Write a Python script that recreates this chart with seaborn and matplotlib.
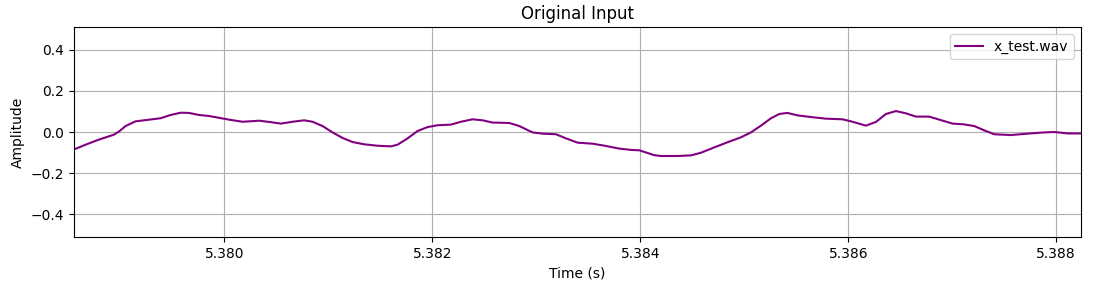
import matplotlib
matplotlib.use("Agg")
import matplotlib.pyplot as plt
import seaborn as sns
import pandas as pd

series_label = "x_test.wav"
time_s = [5.378555, 5.378666, 5.378795, 5.378939, 5.378987, 5.379051, 5.379147,
          5.379276, 5.379387, 5.379484, 5.379580, 5.379661, 5.379757, 5.379853,
          5.379952, 5.380048, 5.380176, 5.380337, 5.380433, 5.380545, 5.380657,
          5.380769, 5.380849, 5.380945, 5.381041, 5.381138, 5.381234, 5.381346,
          5.381474, 5.381603, 5.381666, 5.381763, 5.381859, 5.381955, 5.382051,
          5.382180, 5.382276, 5.382388, 5.382484, 5.382580, 5.382740, 5.382837,
          5.382964, 5.383061, 5.383189, 5.383286, 5.383397, 5.383541, 5.383670,
          5.383798, 5.383926, 5.383990, 5.384135, 5.384199, 5.384359, 5.384488,
          5.384584, 5.384712, 5.384839, 5.384968, 5.385064, 5.385161, 5.385257,
          5.385337, 5.385416, 5.385513, 5.385657, 5.385786, 5.385945, 5.386041,
          5.386170, 5.386266, 5.386363, 5.386459, 5.386555, 5.386651, 5.386779,
          5.386923, 5.387003, 5.387115, 5.387212, 5.387308, 5.387404, 5.387564,
          5.387724, 5.387885, 5.387981, 5.388109, 5.388238]
amplitude = [-0.085, -0.062, -0.037, -0.013, 0.002, 0.029, 0.052,
             0.060, 0.067, 0.083, 0.094, 0.093, 0.083, 0.078,
             0.069, 0.060, 0.050, 0.055, 0.049, 0.041, 0.050,
             0.057, 0.050, 0.029, -0.002, -0.029, -0.049, -0.060,
             -0.067, -0.070, -0.062, -0.031, 0.005, 0.024, 0.033,
             0.036, 0.050, 0.062, 0.057, 0.046, 0.044, 0.029,
             -0.002, -0.008, -0.011, -0.031, -0.052, -0.057, -0.068,
             -0.081, -0.088, -0.089, -0.113, -0.117, -0.117, -0.114,
             -0.101, -0.075, -0.050, -0.026, -0.002, 0.031, 0.067,
             0.088, 0.093, 0.081, 0.072, 0.065, 0.062, 0.050,
             0.031, 0.049, 0.088, 0.102, 0.091, 0.075, 0.075,
             0.053, 0.041, 0.037, 0.029, 0.008, -0.011, -0.015,
             -0.008, -0.002, 0.000, -0.007, -0.007]
x_ticks = [5.380, 5.382, 5.384, 5.386, 5.388]
y_ticks = [-0.4, -0.2, 0.0, 0.2, 0.4]

df = pd.DataFrame({"Time (s)": time_s, "Amplitude": amplitude})

fig = plt.figure(figsize=(10.95, 2.83), dpi=100)
ax = fig.add_axes([74/1095, 46/283, (1081-74)/1095, (237-27)/283])
sns.lineplot(data=df, x="Time (s)", y="Amplitude", ax=ax, color="purple",
             linewidth=1.5, label=series_label, sort=False)
ax.set_xlim(time_s[0], time_s[-1])
ax.set_ylim(-0.512, 0.512)
ax.set_xticks(x_ticks)
ax.set_xticklabels([f"{t:.3f}" for t in x_ticks])
ax.set_yticks(y_ticks)
ax.set_yticklabels([f"{v:.1f}".replace("-", "\u2212") for v in y_ticks])
ax.grid(True, color="#b0b0b0", linewidth=0.8)
ax.set_title("Original Input", fontsize=12)
ax.set_xlabel("Time (s)", fontsize=10)
ax.set_ylabel("Amplitude", fontsize=10)
ax.legend(loc="upper right")
fig.savefig("out.png", dpi=100)
